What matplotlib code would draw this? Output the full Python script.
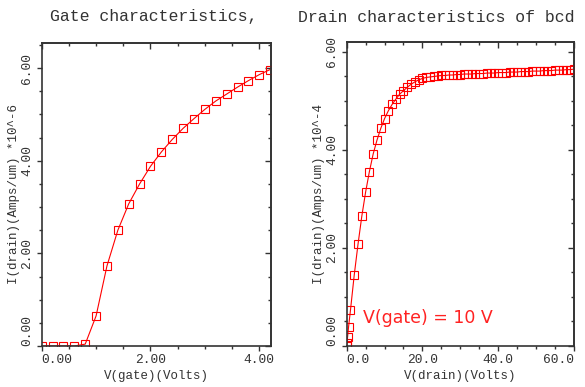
import numpy as np
import matplotlib.pyplot as plt
from matplotlib.ticker import MultipleLocator

# gate sweep (left)
vgate = [0.0, 0.2, 0.4, 0.6, 0.8, 1.0, 1.2, 1.4, 1.6, 1.8, 2.0,
         2.2, 2.4, 2.6, 2.8, 3.0, 3.2, 3.4, 3.6, 3.8, 4.0, 4.2]
id_gate = [0.0, 0.0, 0.0, 0.0, 0.04, 0.65, 1.73, 2.50, 3.07, 3.50, 3.88,
           4.19, 4.46, 4.70, 4.91, 5.11, 5.29, 5.44, 5.59, 5.73, 5.86, 5.97]

# drain sweep (right), vgate = 10 V
vdrain = [0.0, 0.1, 0.25, 0.5, 1, 2, 3, 4, 5, 6, 7, 8, 9, 10,
          11, 12, 13, 14, 15, 16, 17, 18, 19, 20, 21, 22, 23, 24, 25,
          26, 27, 28, 29, 30, 31, 32, 33, 34, 35, 36, 37, 38, 39, 40,
          41, 42, 43, 44, 45, 46, 47, 48, 49, 50, 51, 52, 53, 54, 55,
          56, 57, 58, 59, 60]
id_drain = [0.0, 0.07, 0.19, 0.39, 0.73, 1.45, 2.08, 2.65, 3.14, 3.56, 3.92, 4.20, 4.44, 4.64,
            4.80, 4.93, 5.04, 5.14, 5.21, 5.28, 5.34, 5.39, 5.43, 5.46, 5.48, 5.49, 5.50, 5.51, 5.52,
            5.52, 5.53, 5.53, 5.54, 5.54, 5.55, 5.55, 5.55, 5.56, 5.56, 5.56, 5.57, 5.57, 5.57, 5.58,
            5.58, 5.58, 5.59, 5.59, 5.59, 5.60, 5.60, 5.60, 5.61, 5.61, 5.61, 5.62, 5.62, 5.62, 5.63,
            5.63, 5.63, 5.64, 5.64, 5.65]

mono = 'Liberation Mono'
fg = '#333333'
red = '#ff0000'

fig = plt.figure(figsize=(5.85, 3.87), dpi=100)
ax1 = fig.add_axes([0.0713, 0.106, 0.3914, 0.7837])
ax2 = fig.add_axes([0.5926, 0.106, 0.3885, 0.7863])


def style(ax, xmaj, xmin, ymaj, ymin, xfmt, xlabel, ylabel):
    ax.xaxis.set_major_locator(MultipleLocator(xmaj))
    ax.xaxis.set_minor_locator(MultipleLocator(xmin))
    ax.yaxis.set_major_locator(MultipleLocator(ymaj))
    ax.yaxis.set_minor_locator(MultipleLocator(ymin))
    for s in ax.spines.values():
        s.set_color(fg)
        s.set_linewidth(1.2)
    ax.tick_params(which='both', direction='out', color=fg, width=1,
                   labelsize=9.3, labelcolor=fg, pad=2.5)
    ax.tick_params(which='major', length=3.5)
    ax.tick_params(which='minor', length=2)
    ax.xaxis.set_major_formatter(xfmt)
    ax.yaxis.set_major_formatter('{x:.2f}')
    for lab in ax.get_xticklabels() + ax.get_yticklabels():
        lab.set_family(mono)
    for lab in ax.get_yticklabels():
        lab.set_rotation(90)
        lab.set_va('center')
    ax.set_xlabel(xlabel, family=mono, fontsize=9, color=fg, labelpad=3)
    ax.set_ylabel(ylabel, family=mono, fontsize=9, color=fg, labelpad=1)
    # inward ticks on top and right
    top = ax.secondary_xaxis('top')
    top.xaxis.set_major_locator(MultipleLocator(xmaj))
    top.xaxis.set_minor_locator(MultipleLocator(xmin))
    right = ax.secondary_yaxis('right')
    right.yaxis.set_major_locator(MultipleLocator(ymaj))
    right.yaxis.set_minor_locator(MultipleLocator(ymin))
    for sec in (top, right):
        sec.tick_params(which='both', direction='in', color=fg, width=1,
                        labelleft=False, labelright=False, labeltop=False, labelbottom=False)
        sec.tick_params(which='major', length=4.5)
        sec.tick_params(which='minor', length=2)
        for s in sec.spines.values():
            s.set_color(fg)
            s.set_linewidth(1.2)


# left: gate characteristics
ax1.plot(vgate, id_gate, color=red, lw=0.8, marker='s', ms=5.8,
         mfc='none', mec=red, mew=0.8)
ax1.set_xlim(0, 4.21)
ax1.set_ylim(0, 6.55)
style(ax1, 2, 0.5, 2, 0.5, '{x:.2f}', 'V(gate)(Volts)', 'I(drain)(Amps/um) *10^-6')

# right: drain characteristics
ax2.plot(vdrain, id_drain, color=red, lw=0.8, marker='s', ms=5.8,
         mfc='none', mec=red, mew=0.8)
ax2.set_xlim(0, 60)
ax2.set_ylim(0, 6.21)
style(ax2, 20, 5, 2, 0.5, '{x:.1f}', 'V(drain)(Volts)', 'I(drain)(Amps/um) *10^-4')
ax2.text(4.35, 0.57, 'V(gate) = 10 V', color='#ff2222', fontsize=12.5,
         family='DejaVu Sans', ha='left', va='center')

# keep end labels inside the frame
fig.canvas.draw()
for ax in (ax1, ax2):
    for lab in ax.get_yticklabels():
        if lab.get_text() == '0.00':
            lab.set_va('bottom')
    for lab in ax.get_xticklabels():
        if lab.get_text() in ('0.00', '0.0'):
            lab.set_ha('left')
        if lab.get_text() == '60.0':
            lab.set_ha('right')

fig.text(50 / 585, 1 - 17 / 387, 'Gate characteristics,', family=mono,
         fontsize=11.9, color=fg, ha='left', va='center')
fig.text(298 / 585, 1 - 17 / 387, 'Drain characteristics of bcd', family=mono,
         fontsize=11.9, color=fg, ha='left', va='center')

fig.savefig('out.png', dpi=100)
